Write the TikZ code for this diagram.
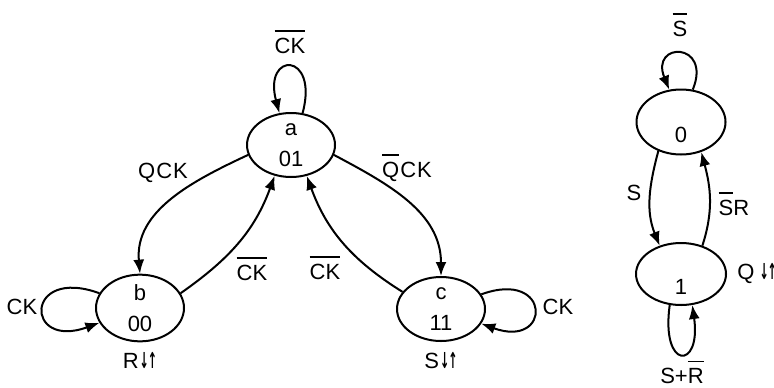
\documentclass[tikz,border=0pt]{standalone}
\usepackage{fontspec}
\usepackage{graphicx}
\setmainfont{Liberation Sans}
\newfontfamily\arrowfont{DejaVu Sans Bold}
\usetikzlibrary{arrows.meta,positioning,shapes.geometric}
\newcommand{\ovl}[1]{\vbox{\hrule height 0.8pt\kern 3pt\hbox{#1}}}
\newcommand{\dnup}{\kern0.5pt{\arrowfont\scalebox{0.5}[1]{↓}\kern-0.5pt\scalebox{0.5}[1]{↑}}}

\begin{document}
\begin{tikzpicture}[
  x=0.5pt, y=0.5pt,
  state/.style={ellipse, draw, line width=1pt, minimum width=44pt, minimum height=32pt,
                inner sep=0pt, align=center, font=\fontsize{11}{15.5}\selectfont},
  lbl/.style={inner sep=1pt, font=\fontsize{11}{12}\selectfont},
  arr/.style={line width=1pt, -{Latex[length=7pt,width=5.5pt]}},
  node distance=4pt
]
  \useasboundingbox (0,0) rectangle (774,387);

  %% counter states a, b, c
  \node[state] (a) at (291,242) {a\\01};
  \node[state] (b) at (140,79)  {b\\00};
  \node[state] (c) at (441,78)  {c\\11};

  %% flip-flop states 0, 1
  \node[state, minimum width=44.5pt, minimum height=32.5pt] (n0) at (681,265) {\raisebox{-10pt}[0pt][0pt]{0}};
  \node[state, minimum width=45pt, minimum height=31pt]     (n1) at (681,113) {\raisebox{-10pt}[0pt][0pt]{1}};

  %% transitions of the counter
  \draw[arr] (a.193) to[out=205, in=95] (b.north);
  \draw[arr] (b.20)  to[out=35, in=250] (a.242);
  \draw[arr] (a.347) to[out=332, in=90] (c.north);
  \draw[arr] (c.156) to[out=148, in=290] (a.297);
  \draw[arr] (a.70)  .. controls +(75:64) and +(105:64) .. (a.110);
  \draw[arr] (b.160) .. controls +(160:80) and +(200:80) .. (b.200);
  \draw[arr] (c.20)  .. controls +(20:75) and +(-20:75) .. (c.-20);

  %% transitions of the flip-flop
  \draw[arr] (n0.232) to[out=255, in=112] (n1.127);
  \draw[arr] (n1.53)  to[out=72, in=285] (n0.304);
  \draw[arr] (n0.70)  .. controls +(68:52) and +(112:52) .. (n0.110);
  \draw[arr] (n1.250) .. controls +(262:66) and +(278:66) .. (n1.290);

  %% labels
  \node[lbl] (lcka)  at (290,345) {\ovl{CK}};
  \node[lbl] (lckb)  at (22,80)   {CK};
  \node[lbl] (lckc)  at (558,80)  {CK};
  \node[lbl] (lqck)  at (163,214) {Q\kern0.5pt C\kern0.5pt K};
  \node[lbl] (lckba) at (252,118) {\ovl{CK}};
  \node[lbl] (lnqck) at (407,219) {\ovl{Q}\kern0.5pt C\kern0.5pt K};
  \node[lbl] (lckca) at (325,119) {\ovl{CK}};
  \node[lbl, below=of b] (lrb) {R\dnup};
  \node[lbl, below=of c] (lsc) {S\dnup};
  \node[lbl, right=of n1] (lq1) {Q\kern2pt\dnup};
  \node[lbl] (lsn)   at (680,362) {\ovl{S}};
  \node[lbl] (ls)    at (634,194) {S};
  \node[lbl] (lsr)   at (734,183) {\ovl{S}R};
  \node[lbl] (lsrn)  at (682,15)  {S+\ovl{R}};
\end{tikzpicture}
\end{document}
